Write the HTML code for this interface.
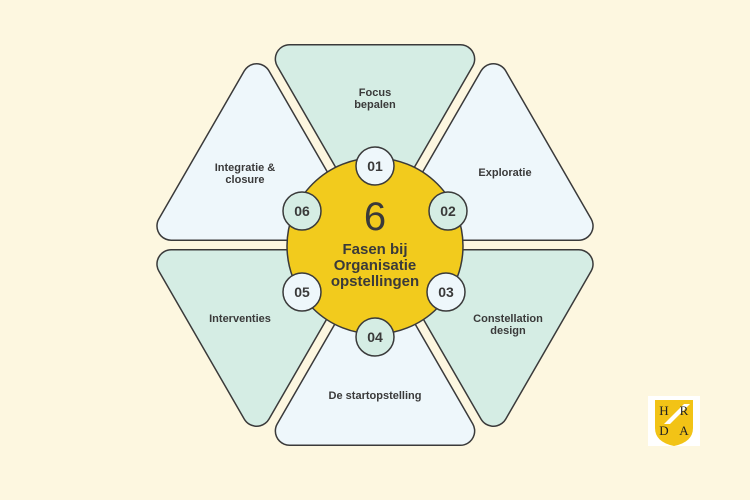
<!DOCTYPE html>
<html><head><meta charset="utf-8"><style>
html,body{margin:0;padding:0;background:#fdf7e0;}
svg{display:block;font-family:"Liberation Sans",sans-serif;}
</style></head><body>
<svg width="750" height="500" viewBox="0 0 750 500">
<rect width="750" height="500" fill="#fdf7e0"/>
<defs>
<polygon id="tri" points="375,207 289.6,59 460.4,59"/>
</defs>
<g stroke-linejoin="round">
<g><use href="#tri" stroke="#3a3a3a" stroke-width="30" fill="#3a3a3a"/><use href="#tri" stroke="#d5ede4" stroke-width="27" fill="#d5ede4"/></g>
<g transform="rotate(60 375 245)"><use href="#tri" stroke="#3a3a3a" stroke-width="30" fill="#3a3a3a"/><use href="#tri" stroke="#eef7fb" stroke-width="27" fill="#eef7fb"/></g>
<g transform="rotate(120 375 245)"><use href="#tri" stroke="#3a3a3a" stroke-width="30" fill="#3a3a3a"/><use href="#tri" stroke="#d5ede4" stroke-width="27" fill="#d5ede4"/></g>
<g transform="rotate(180 375 245)"><use href="#tri" stroke="#3a3a3a" stroke-width="30" fill="#3a3a3a"/><use href="#tri" stroke="#eef7fb" stroke-width="27" fill="#eef7fb"/></g>
<g transform="rotate(240 375 245)"><use href="#tri" stroke="#3a3a3a" stroke-width="30" fill="#3a3a3a"/><use href="#tri" stroke="#d5ede4" stroke-width="27" fill="#d5ede4"/></g>
<g transform="rotate(300 375 245)"><use href="#tri" stroke="#3a3a3a" stroke-width="30" fill="#3a3a3a"/><use href="#tri" stroke="#eef7fb" stroke-width="27" fill="#eef7fb"/></g>
</g>
<g font-size="11" font-weight="bold" fill="#3a3a3a" text-anchor="middle">
<text x="375" y="96">Focus</text><text x="375" y="108">bepalen</text>
<text x="505" y="176">Exploratie</text>
<text x="508" y="322">Constellation</text><text x="508" y="334">design</text>
<text x="375" y="399">De startopstelling</text>
<text x="240" y="322">Interventies</text>
<text x="245" y="171">Integratie &amp;</text><text x="245" y="183">closure</text>
</g>
<circle cx="375" cy="246" r="88" fill="#f2cb1d" stroke="#3a3a3a" stroke-width="1.5"/>
<text x="375" y="230" font-size="40" fill="#3a3a3a" text-anchor="middle">6</text>
<g font-size="15" font-weight="bold" fill="#3a3a3a" text-anchor="middle">
<text x="375" y="254">Fasen bij</text><text x="375" y="270">Organisatie</text><text x="375" y="286">opstellingen</text>
</g>
<g stroke="#3a3a3a" stroke-width="1.5">
<circle cx="375" cy="166" r="19" fill="#eef7fb"/>
<circle cx="448" cy="211" r="19" fill="#d5ede4"/>
<circle cx="446" cy="292" r="19" fill="#eef7fb"/>
<circle cx="375" cy="337" r="19" fill="#d5ede4"/>
<circle cx="302" cy="292" r="19" fill="#eef7fb"/>
<circle cx="302" cy="211" r="19" fill="#d5ede4"/>
</g>
<g font-size="14" font-weight="bold" fill="#3a3a3a" text-anchor="middle">
<text x="375" y="171">01</text><text x="448" y="216">02</text><text x="446" y="297">03</text>
<text x="375" y="342">04</text><text x="302" y="297">05</text><text x="302" y="216">06</text>
</g>
<rect x="648" y="396" width="52" height="50" fill="#ffffff"/>
<path d="M655,400 H693 V428 Q693,442 674,446 Q655,442 655,428 Z" fill="#f2c316"/>
<polygon points="664,424 684,404 690,404 670,424" fill="#ffffff"/>
<g font-family="Liberation Serif,serif" font-size="13" fill="#222" text-anchor="middle">
<text x="664" y="415">H</text><text x="684" y="415">R</text>
<text x="664" y="435">D</text><text x="684" y="435">A</text>
</g>
</svg>
</body></html>
